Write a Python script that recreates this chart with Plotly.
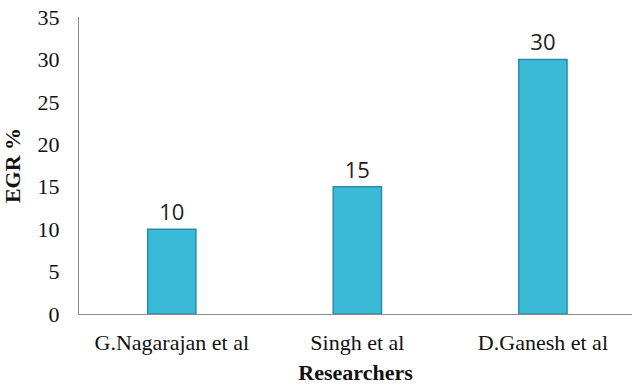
import plotly.graph_objects as go

# EGR percentage reported by each research group
researchers = ["G.Nagarajan et al", "Singh et al", "D.Ganesh et al"]
egr_percent = [10, 15, 30]
y_ticks = [0, 5, 10, 15, 20, 25, 30, 35]

serif = "Liberation Serif, Times New Roman, serif"

fig = go.Figure()
fig.add_trace(go.Bar(
    x=researchers,
    y=egr_percent,
    width=0.26,
    marker=dict(color="#3BBAD8", line=dict(color="#2A8CA8", width=1.5)),
    text=[str(v) for v in egr_percent],
    textposition="outside",
    cliponaxis=False,
    textfont=dict(family="Open Sans, Liberation Sans, sans-serif", size=22, color="#222222"),
))

fig.update_layout(
    width=632,
    height=385,
    margin=dict(l=79, r=0, t=17, b=71),
    paper_bgcolor="white",
    plot_bgcolor="white",
    showlegend=False,
)

fig.update_xaxes(
    range=[-0.5, 2.48],
    showline=True,
    linecolor="#8C8C8C",
    linewidth=1,
    showgrid=False,
    ticks="",
    ticklabelstandoff=9,
    tickfont=dict(family=serif, size=22, color="#111111"),
    title=dict(text="<b>Researchers</b>", font=dict(family=serif, size=22, color="#111111"), standoff=10),
)

fig.update_yaxes(
    range=[0, 35],
    tickvals=y_ticks,
    showline=True,
    linecolor="#8C8C8C",
    linewidth=1,
    showgrid=False,
    zeroline=False,
    ticks="",
    ticklabelstandoff=14,
    tickfont=dict(family=serif, size=22, color="#111111"),
    title=dict(text="<b>EGR %</b>", font=dict(family=serif, size=22, color="#111111"), standoff=12),
)

fig.write_html("out.html")
